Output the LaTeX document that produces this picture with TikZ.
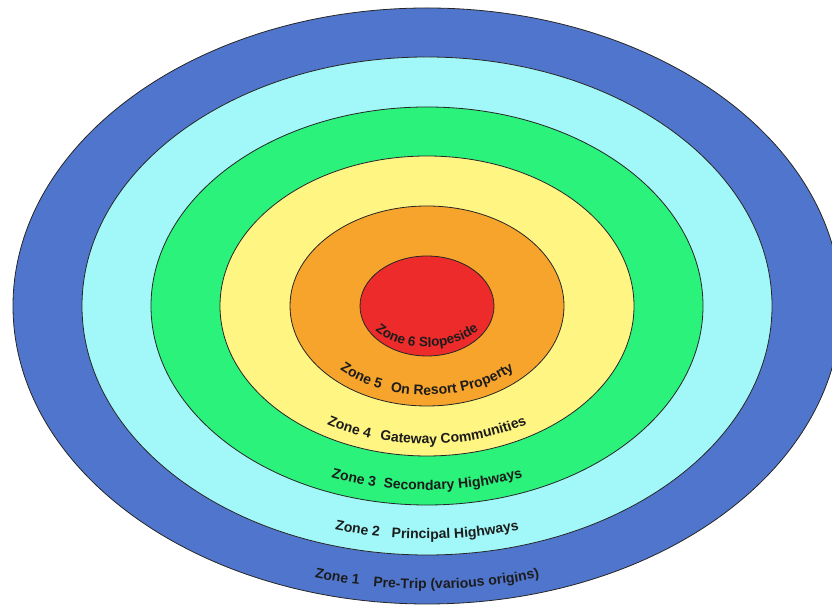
\documentclass[tikz,border=0pt]{standalone}
\usepackage{fontspec}
\setmainfont{Liberation Sans}
\usepackage{xcolor}
\usetikzlibrary{decorations.text}

\definecolor{zoneblue}{HTML}{5075CC}
\definecolor{zonecyan}{HTML}{A2F8F8}
\definecolor{zonegreen}{HTML}{2AF27A}
\definecolor{zoneyellow}{HTML}{FFF582}
\definecolor{zoneorange}{HTML}{F7A42C}
\definecolor{zonered}{HTML}{EE2B2B}
\definecolor{zonetxt}{HTML}{1C1C1C}
\newcommand{\zonefont}{\fontsize{14}{14}\selectfont\bfseries}
\newcommand{\innerfont}{\fontsize{13.5}{13.5}\selectfont\bfseries}

\begin{document}
\begin{tikzpicture}[x=1pt, y=1pt, ring/.style={draw=black!85,line width=0.8pt}, lab/.style={decorate,decoration={text along path,text align=center,text color=zonetxt,text={|\zonefont|#1}}}]
\useasboundingbox (0,0) rectangle (832,609);
\coordinate (c) at (427,303);
% zones, outer to inner
\foreach \rx/\ry/\col in {414/298/zoneblue,345/249/zonecyan,276/199/zonegreen,207/150/zoneyellow,137/100/zoneorange,67/50/zonered}
  \draw[ring,fill=\col] (c) ellipse [x radius=\rx, y radius=\ry];
% labels along the lower arcs
\path[lab={Zone 1{\hspace{14pt}}Pre-Trip (various origins)}] (28,303) arc[start angle=180,end angle=360,x radius=399,y radius=283];
\path[lab={Zone 2{\hspace{12pt}}Principal Highways}] (98,303) arc[start angle=180,end angle=360,x radius=329,y radius=233];
\path[lab={Zone 3{\hspace{8pt}}Secondary Highways}] (167,303) arc[start angle=180,end angle=360,x radius=260,y radius=184];
\path[lab={Zone 4{\hspace{10pt}}Gateway Communities}] (233,303) arc[start angle=180,end angle=360,x radius=194,y radius=138];
\path[lab={Zone 5{\hspace{10pt}}On Resort Property}] (302,303) arc[start angle=180,end angle=360,x radius=125,y radius=89];
\path[decorate,decoration={text along path,text align=center,text color=zonetxt,text={|\innerfont|Zone 6{\hspace{4pt}}Slopeside}}] (363,303) arc[start angle=180,end angle=360,x radius=64,y radius=41];
\end{tikzpicture}
\end{document}
